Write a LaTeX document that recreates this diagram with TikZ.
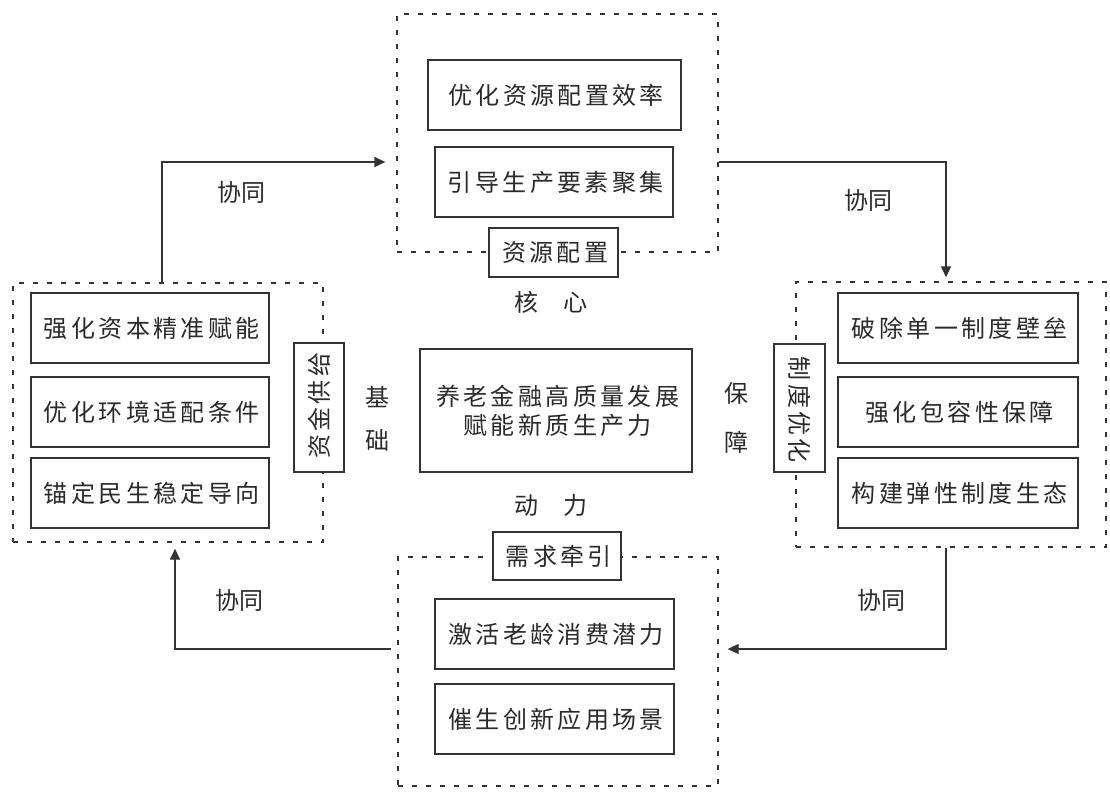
\documentclass[tikz,border=0pt]{standalone}
\usepackage{fontspec}
\setmainfont{Noto Sans CJK SC}
\newfontfamily\cjk[LetterSpace=14]{Noto Sans CJK SC}
\usetikzlibrary{arrows.meta}
\definecolor{ln}{HTML}{333333}
\definecolor{tx}{HTML}{2A2A2A}
\begin{document}
\begin{tikzpicture}[x=1pt,y=-1pt,
  grp/.style={draw=ln,line width=1.3pt,dash pattern=on 5pt off 9pt,inner sep=0pt},
  itembox/.style={draw=ln,line width=1.3pt,fill=white,inner sep=0pt,minimum height=70pt,text=tx,font=\cjk\fontsize{24}{28}\selectfont,execute at begin node={\hspace*{3.36pt}}},
  tagbox/.style={draw=ln,line width=1.3pt,fill=white,inner sep=0pt,text=tx,font=\cjk\fontsize{24}{28}\selectfont,execute at begin node={\hspace*{3.36pt}}},
  lbl/.style={inner sep=0pt,text=tx,font=\fontsize{24}{28}\selectfont},
  arr/.style={draw=ln,line width=1.3pt,-{Triangle[length=11pt,width=10pt]}}]
\useasboundingbox (0,0) rectangle (1110,792);
% dashed groups
\node[grp,minimum width=321pt,minimum height=238pt] (tg) at (557.5,133) {};
\node[grp,minimum width=310pt,minimum height=259pt] (lg) at (168,412.5) {};
\node[grp,minimum width=310pt,minimum height=265pt] (rg) at (951,414.5) {};
\node[grp,minimum width=320pt,minimum height=229pt] (bg) at (558,671.5) {};
% top items
\node[itembox,minimum width=253pt] (t1) at (554.5,95) {优化资源配置效率};
\node[itembox,minimum width=238pt] (t2) at (554,182) {引导生产要素聚集};
\node[tagbox,minimum width=129pt,minimum height=49pt] (tt) at (553.5,252.5) {资源配置};
% left items
\node[itembox,minimum width=238pt] (l1) at (150,328) {强化资本精准赋能};
\node[itembox,minimum width=238pt] (l2) at (150,412) {优化环境适配条件};
\node[itembox,minimum width=238pt] (l3) at (150,493) {锚定民生稳定导向};
\node[tagbox,rotate=90,minimum width=129pt,minimum height=50pt] (lt) at (319,407.5) {资金供给};
% right items
\node[itembox,minimum width=240pt] (r1) at (958,328) {破除单一制度壁垒};
\node[itembox,minimum width=240pt] (r2) at (958,412) {强化包容性保障};
\node[itembox,minimum width=240pt] (r3) at (958,493) {构建弹性制度生态};
\node[tagbox,rotate=-90,minimum width=128pt,minimum height=51pt] (rt) at (799.5,408) {制度优化};
% bottom items
\node[itembox,minimum width=239pt] (b1) at (554.5,634) {激活老龄消费潜力};
\node[itembox,minimum width=239pt] (b2) at (554.5,719) {催生创新应用场景};
\node[tagbox,minimum width=128pt,minimum height=48pt] (bt) at (557,556) {需求牵引};
% centre
\node[draw=ln,line width=1.3pt,inner sep=0pt,text=tx,minimum width=272pt,minimum height=123pt,align=center,font=\cjk\fontsize{24}{29}\selectfont] (c) at (556,410.5) {\hspace*{3.36pt}养老金融高质量发展\\\hspace*{3.36pt}赋能新质生产力};
% side words
\node[lbl] (he) at (551,302) {核\hspace{26pt}心};
\node[lbl] (dong) at (551,505) {动\hspace{26pt}力};
\node[lbl] (ji) at (377,397) {基};
\node[lbl] (chu) at (377,440) {础};
\node[lbl] (bao) at (736,393) {保};
\node[lbl] (zhang) at (736,442) {障};
\node[lbl] (x1) at (241,192) {协同};
\node[lbl] (x2) at (868,200) {协同};
\node[lbl] (x3) at (239,600) {协同};
\node[lbl] (x4) at (881,600) {协同};
% connectors
\coordinate (a1) at (162,162);
\coordinate (a2) at (946,162);
\coordinate (a3) at (946,649);
\coordinate (a4) at (175,649);
\draw[arr] (lg.north -| a1) |- ([xshift=-11pt]tg.west |- a1);
\draw[arr] (tg.east |- a2) -| ([yshift=4pt]rg.north -| a2);
\draw[arr] (rg.south -| a3) |- ([xshift=9pt]bg.east |- a3);
\draw[arr] ([xshift=-6pt]bg.west |- a4) -| ([yshift=-6pt]lg.south -| a4);
\end{tikzpicture}
\end{document}
